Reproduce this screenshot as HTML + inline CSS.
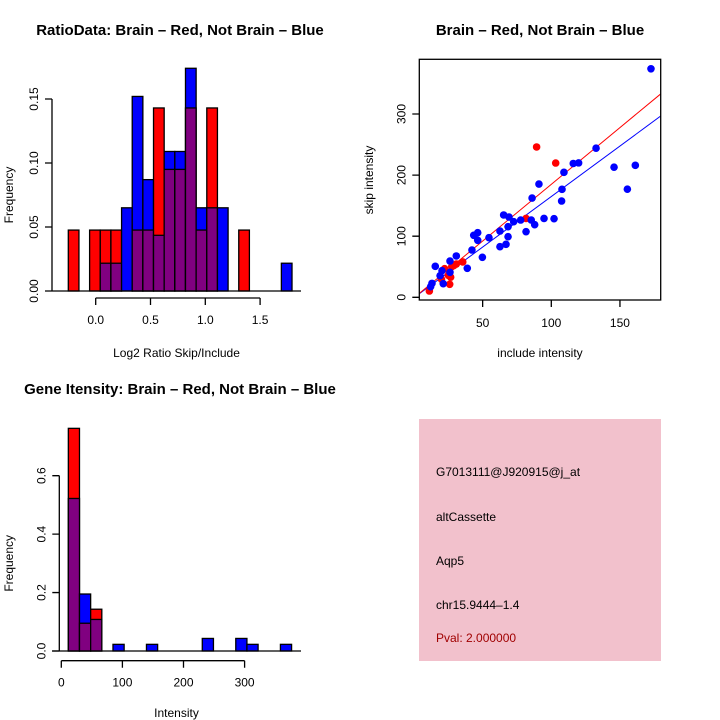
<!DOCTYPE html>
<html><head><meta charset="utf-8"><style>
html,body{margin:0;padding:0;background:#fff;}
svg{display:block;font-family:"Liberation Sans",sans-serif;}
</style></head><body>
<svg id="c" width="720" height="720" viewBox="0 0 720 720" xmlns="http://www.w3.org/2000/svg">
<rect width="720" height="720" fill="#fff"/>
<text x="180" y="35" font-size="15" font-weight="bold" text-anchor="middle">RatioData: Brain – Red, Not Brain – Blue</text>
<text x="540" y="35" font-size="15" font-weight="bold" text-anchor="middle">Brain – Red, Not Brain – Blue</text>
<text x="180" y="394" font-size="15" font-weight="bold" text-anchor="middle">Gene Itensity: Brain – Red, Not Brain – Blue</text>
<g id="g1"></g>
<g id="g2"></g>
<g id="g3"></g>
<g>
<rect x="419" y="419" width="242" height="242" fill="#f2c1cc"/>
<text x="436" y="476" font-size="12">G7013111@J920915@j_at</text>
<text x="436" y="521" font-size="12">altCassette</text>
<text x="436" y="565" font-size="12">Aqp5</text>
<text x="436" y="609" font-size="12">chr15.9444–1.4</text>
<text x="436" y="642" font-size="12" fill="#a00000">Pval: 2.000000</text>
</g>
</svg>
<script>
// ---- Ratio histogram data ----
const ratioBreakStart = -0.25;
const ratioBinWidth = 0.0972;
const ratioRed  = [0.0476,0,0.0476,0.0476,0.0476,0,0.0476,0.0476,0.143,0.095,0.095,0.143,0.0476,0.143,0,0,0.0476,0,0,0,0];
const ratioBlue = [0,0,0,0.0217,0.0217,0.065,0.152,0.087,0.0435,0.109,0.109,0.174,0.065,0.065,0.065,0,0,0,0,0,0.0217];
const ratioXTicks = [0.0,0.5,1.0,1.5];
const ratioXLabels = ["0.0","0.5","1.0","1.5"];
const ratioYTicks = [0,0.05,0.10,0.15];
const ratioYLabels = ["0.00","0.05","0.10","0.15"];
// ---- Scatter data ----
const blueInclude = [172.6,132.6,145.7,161.2,155.4,116,119.9,109.2,107.8,107.5,91,86,102,94.7,87.9,85.4,81.6,77.7,72.6,69.2,65.3,68.5,68.5,67,62.6,62.6,54.6,49.8,46.4,43.5,46.4,42.2,38.8,30.8,26.2,26.2,20.4,15.5,21.3,13.1,12.1,19];
const blueSkip = [374,244,213,216,177,219,220,204.5,176.7,157.6,185.4,162.5,128.6,129,118.8,126.5,107.4,126.5,123.7,131.4,134.7,115.6,99.2,86.7,108.5,82.8,97.5,65.5,105.7,101.5,93.3,77.4,47.5,67.6,59.4,40.9,43.5,50.7,22.3,22.8,17.3,35.4];
const redInclude = [89.3,103.2,81.6,35.5,30.8,27.5,26,11.2,22.3,20,25,26.7,29];
const redSkip = [246,219.8,129,57.8,54.5,50,21.3,10.3,46.8,29.5,36,33,52];
const redFit = [-0.8,1.857];
const blueFit = [-0.5,1.654];
const scXTicks = [50,100,150];
const scYTicks = [0,100,200,300];
// ---- Intensity histogram data ----
const intBreakStart = 11.5;
const intBinWidth = 18.27;
const intRed  = [0.762,0.095,0.143,0,0,0,0,0,0,0,0,0,0,0,0,0,0,0,0,0];
const intBlue = [0.522,0.195,0.108,0,0.0228,0,0,0.0228,0,0,0,0,0.043,0,0,0.043,0.0228,0,0,0.0228];
const intXTicks = [0,100,200,300];
const intYTicks = [0,0.2,0.4,0.6];
const intYLabels = ["0.0","0.2","0.4","0.6"];

const NS="http://www.w3.org/2000/svg";
function mk(parent,tag,attrs){const e=document.createElementNS(NS,tag);for(const k in attrs)e.setAttribute(k,attrs[k]);parent.appendChild(e);return e;}
function txt(parent,x,y,s,rot,anchor){const t=mk(parent,'text',{x:x,y:y,'font-size':12,'text-anchor':anchor||'middle'});if(rot)t.setAttribute('transform','rotate(-90 '+x+' '+y+')');t.textContent=s;return t;}

function histo(g,xs,ys,start,w,red,blue,xt,xl,yt,yl,axY,xlab,xlabY,yAxisX,yLabX,baseX0,baseX1){
  for(let i=0;i<red.length;i++){
    const r=red[i],b=blue[i];const mx=Math.max(r,b),mn=Math.min(r,b);
    if(mx<=0)continue;
    const x0=xs(start+i*w),x1=xs(start+(i+1)*w);
    const top=mk(g,'rect',{x:x0,y:ys(mx),width:x1-x0,height:ys(0)-ys(mx),fill:r>=b?'#ff0000':'#0000ff',stroke:'#000','stroke-width':1.3});
    
    
    if(mn>0){
      const p=mk(g,'rect',{x:x0,y:ys(mn),width:x1-x0,height:ys(0)-ys(mn),fill:'#800080',stroke:'#000','stroke-width':1.3});
      
      
    }
  }
  const base=mk(g,'line',{x1:baseX0,x2:baseX1,y1:ys(0),y2:ys(0),stroke:'#000','stroke-width':1.3});
  
  
  const xa=mk(g,'path',{d:'M'+xs(xt[0])+' '+axY+'H'+xs(xt[xt.length-1])+xt.map(v=>'M'+xs(v)+' '+axY+'v7').join(''),stroke:'#000',fill:'none','stroke-width':1.3});
  
  
  xt.forEach((v,i)=>{const t=txt(g,xs(v),axY+26,xl[i]);});
  const ya=mk(g,'path',{d:'M'+yAxisX+' '+ys(yt[0])+'V'+ys(yt[yt.length-1])+yt.map(v=>'M'+yAxisX+' '+ys(v)+'h-7').join(''),stroke:'#000',fill:'none','stroke-width':1.3});
  
  
  yt.forEach((v,i)=>{const t=txt(g,yAxisX-14,ys(v),yl[i],true);});
  const xt2=txt(g,(baseX0+baseX1)/2,xlabY,xlab);
  
  
  const yt2=txt(g,yLabX,ys((yt[0]+yt[yt.length-1])/2),'Frequency',true);
  
  
}
// plot 1
{const g=document.getElementById('g1');
 const xs=v=>95.7+v*109.6, ys=v=>291-v*1280;
 histo(g,xs,ys,ratioBreakStart,ratioBinWidth,ratioRed,ratioBlue,ratioXTicks,ratioXLabels,ratioYTicks,ratioYLabels,298,'Log2 Ratio Skip/Include',357,52,13,52,301);}
// plot 3
{const g=document.getElementById('g3');
 const xs=v=>61.3+v*0.611, ys=v=>651-v*292.2;
 histo(g,xs,ys,intBreakStart,intBinWidth,intRed,intBlue,intXTicks,intXTicks.map(String),intYTicks,intYLabels,660.7,'Intensity',717,59.3,13,52,301);}
// plot 2
{const g=document.getElementById('g2');
 const xs=v=>414+v*1.373, ys=v=>297.3-v*0.611;
 const L=419.3,R=660.7,T=59.3,B=300;
 const cp=mk(g,'clipPath',{id:'clipsc'});mk(cp,'rect',{x:L,y:T,width:R-L,height:B-T});
 const fits=[[blueFit,'#0000ff','blue-fit-line'],[redFit,'#ff0000','red-fit-line']];
 fits.forEach(f=>{const x0=(L-414)/1.373,x1=(R-414)/1.373;
   const l=mk(g,'line',{x1:L,x2:R,y1:ys(f[0][0]+f[0][1]*x0),y2:ys(f[0][0]+f[0][1]*x1),stroke:f[1],'stroke-width':1,'clip-path':'url(#clipsc)'});
   
   });
 redInclude.forEach((v,i)=>{const c=mk(g,'circle',{cx:xs(v),cy:ys(redSkip[i]),r:3.8,fill:'#ff0000'});
   
   });
 blueInclude.forEach((v,i)=>{const c=mk(g,'circle',{cx:xs(v),cy:ys(blueSkip[i]),r:3.8,fill:'#0000ff'});
   
   });
 const box=mk(g,'rect',{x:L,y:T,width:R-L,height:B-T,fill:'none',stroke:'#000','stroke-width':1.3});
 
 
 const xa=mk(g,'path',{d:scXTicks.map(v=>'M'+xs(v)+' '+B+'v7').join(''),stroke:'#000','stroke-width':1.3});
 
 
 scXTicks.forEach(v=>{const t=txt(g,xs(v),B+27,String(v));});
 const ya=mk(g,'path',{d:scYTicks.map(v=>'M'+L+' '+ys(v)+'h-7').join(''),stroke:'#000','stroke-width':1.3});
 
 
 scYTicks.forEach(v=>{const t=txt(g,L-14,ys(v),String(v),true);});
 const xt2=txt(g,540,357,'include intensity');
 
 
 const yt2=txt(g,373,180,'skip intensity',true);
 
 }
</script>
</body></html>
